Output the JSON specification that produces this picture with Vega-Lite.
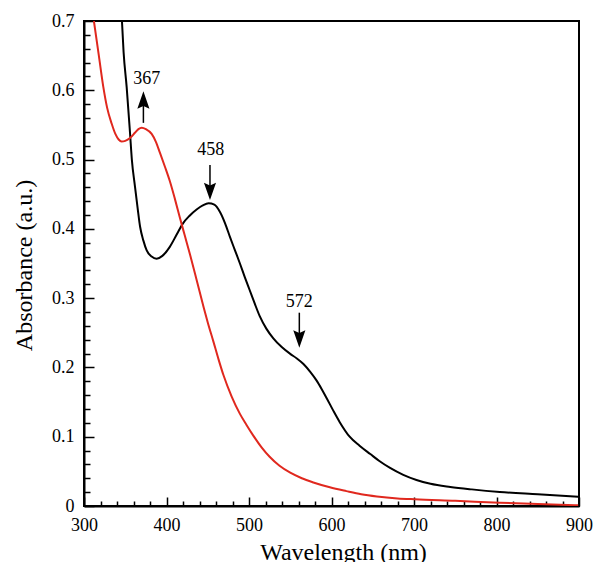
{
  "$schema": "https://vega.github.io/schema/vega-lite/v6.json",
  "width": 495,
  "height": 485,
  "autosize": {"type": "none"},
  "padding": {"left": 84, "top": 21, "right": 14, "bottom": 56},
  "background": "white",
  "config": {
    "view": {"stroke": "black", "strokeWidth": 2},
    "font": "Liberation Serif",
    "axis": {"grid": false, "domainColor": "black", "tickColor": "black", "labelColor": "black", "titleColor": "black", "labelFont": "Liberation Serif", "titleFont": "Liberation Serif", "labelFontSize": 18, "titleFontSize": 24, "titleFontWeight": "normal", "labelFlush": false, "labelOverlap": false}
  },
  "datasets": {
    "spectra": [
      {"wl": 346, "abs": 0.700, "s": "b"},
      {"wl": 348, "abs": 0.655, "s": "b"},
      {"wl": 351.7, "abs": 0.605, "s": "b"},
      {"wl": 355.8, "abs": 0.538, "s": "b"},
      {"wl": 358, "abs": 0.500, "s": "b"},
      {"wl": 361.8, "abs": 0.461, "s": "b"},
      {"wl": 365, "abs": 0.430, "s": "b"},
      {"wl": 368, "abs": 0.403, "s": "b"},
      {"wl": 372, "abs": 0.383, "s": "b"},
      {"wl": 376, "abs": 0.369, "s": "b"},
      {"wl": 382, "abs": 0.360, "s": "b"},
      {"wl": 388, "abs": 0.357, "s": "b"},
      {"wl": 395, "abs": 0.361, "s": "b"},
      {"wl": 404, "abs": 0.374, "s": "b"},
      {"wl": 412, "abs": 0.391, "s": "b"},
      {"wl": 420, "abs": 0.408, "s": "b"},
      {"wl": 428, "abs": 0.419, "s": "b"},
      {"wl": 436.5, "abs": 0.428, "s": "b"},
      {"wl": 444, "abs": 0.434, "s": "b"},
      {"wl": 451, "abs": 0.437, "s": "b"},
      {"wl": 458, "abs": 0.435, "s": "b"},
      {"wl": 465, "abs": 0.424, "s": "b"},
      {"wl": 471, "abs": 0.408, "s": "b"},
      {"wl": 477, "abs": 0.388, "s": "b"},
      {"wl": 483, "abs": 0.369, "s": "b"},
      {"wl": 489, "abs": 0.350, "s": "b"},
      {"wl": 495, "abs": 0.330, "s": "b"},
      {"wl": 501, "abs": 0.311, "s": "b"},
      {"wl": 507, "abs": 0.292, "s": "b"},
      {"wl": 513, "abs": 0.274, "s": "b"},
      {"wl": 521, "abs": 0.256, "s": "b"},
      {"wl": 529.5, "abs": 0.242, "s": "b"},
      {"wl": 540, "abs": 0.229, "s": "b"},
      {"wl": 550, "abs": 0.2195, "s": "b"},
      {"wl": 558, "abs": 0.213, "s": "b"},
      {"wl": 566, "abs": 0.205, "s": "b"},
      {"wl": 574, "abs": 0.194, "s": "b"},
      {"wl": 582, "abs": 0.181, "s": "b"},
      {"wl": 588, "abs": 0.169, "s": "b"},
      {"wl": 594, "abs": 0.156, "s": "b"},
      {"wl": 602, "abs": 0.138, "s": "b"},
      {"wl": 610, "abs": 0.121, "s": "b"},
      {"wl": 622, "abs": 0.100, "s": "b"},
      {"wl": 634, "abs": 0.087, "s": "b"},
      {"wl": 647, "abs": 0.075, "s": "b"},
      {"wl": 658, "abs": 0.065, "s": "b"},
      {"wl": 671, "abs": 0.055, "s": "b"},
      {"wl": 687, "abs": 0.045, "s": "b"},
      {"wl": 703, "abs": 0.0376, "s": "b"},
      {"wl": 720, "abs": 0.032, "s": "b"},
      {"wl": 744, "abs": 0.0275, "s": "b"},
      {"wl": 770, "abs": 0.024, "s": "b"},
      {"wl": 804, "abs": 0.0203, "s": "b"},
      {"wl": 850, "abs": 0.017, "s": "b"},
      {"wl": 899, "abs": 0.0135, "s": "b"},
      {"wl": 312, "abs": 0.700, "s": "r"},
      {"wl": 315, "abs": 0.675, "s": "r"},
      {"wl": 318, "abs": 0.650, "s": "r"},
      {"wl": 323.4, "abs": 0.605, "s": "r"},
      {"wl": 328, "abs": 0.575, "s": "r"},
      {"wl": 333.5, "abs": 0.552, "s": "r"},
      {"wl": 338, "abs": 0.537, "s": "r"},
      {"wl": 342, "abs": 0.529, "s": "r"},
      {"wl": 345.6, "abs": 0.526, "s": "r"},
      {"wl": 350, "abs": 0.527, "s": "r"},
      {"wl": 355.8, "abs": 0.531, "s": "r"},
      {"wl": 362, "abs": 0.539, "s": "r"},
      {"wl": 366, "abs": 0.544, "s": "r"},
      {"wl": 370, "abs": 0.546, "s": "r"},
      {"wl": 375, "abs": 0.544, "s": "r"},
      {"wl": 382, "abs": 0.537, "s": "r"},
      {"wl": 387, "abs": 0.526, "s": "r"},
      {"wl": 392, "abs": 0.510, "s": "r"},
      {"wl": 398, "abs": 0.490, "s": "r"},
      {"wl": 404, "abs": 0.469, "s": "r"},
      {"wl": 410, "abs": 0.444, "s": "r"},
      {"wl": 416, "abs": 0.417, "s": "r"},
      {"wl": 422, "abs": 0.391, "s": "r"},
      {"wl": 428.5, "abs": 0.363, "s": "r"},
      {"wl": 436.6, "abs": 0.326, "s": "r"},
      {"wl": 445, "abs": 0.287, "s": "r"},
      {"wl": 450, "abs": 0.265, "s": "r"},
      {"wl": 456.7, "abs": 0.238, "s": "r"},
      {"wl": 463, "abs": 0.212, "s": "r"},
      {"wl": 469, "abs": 0.189, "s": "r"},
      {"wl": 479, "abs": 0.158, "s": "r"},
      {"wl": 489, "abs": 0.133, "s": "r"},
      {"wl": 497, "abs": 0.117, "s": "r"},
      {"wl": 505, "abs": 0.102, "s": "r"},
      {"wl": 515, "abs": 0.085, "s": "r"},
      {"wl": 525, "abs": 0.071, "s": "r"},
      {"wl": 537, "abs": 0.058, "s": "r"},
      {"wl": 550, "abs": 0.048, "s": "r"},
      {"wl": 564, "abs": 0.040, "s": "r"},
      {"wl": 578, "abs": 0.034, "s": "r"},
      {"wl": 598, "abs": 0.027, "s": "r"},
      {"wl": 618, "abs": 0.0215, "s": "r"},
      {"wl": 636, "abs": 0.017, "s": "r"},
      {"wl": 655, "abs": 0.0138, "s": "r"},
      {"wl": 680, "abs": 0.011, "s": "r"},
      {"wl": 701, "abs": 0.0097, "s": "r"},
      {"wl": 750, "abs": 0.0075, "s": "r"},
      {"wl": 804, "abs": 0.0048, "s": "r"},
      {"wl": 850, "abs": 0.003, "s": "r"},
      {"wl": 899, "abs": 0.001, "s": "r"}
    ],
    "notes": [
      {"label": "367", "tx": 376, "ty": 0.6165, "ax": 372, "a1": 0.553, "a2": 0.58, "head": 0.586, "dir": "up"},
      {"label": "458", "tx": 453.5, "ty": 0.5145, "ax": 452.7, "a1": 0.492, "a2": 0.46, "head": 0.454, "dir": "down"},
      {"label": "572", "tx": 561, "ty": 0.295, "ax": 561, "a1": 0.279, "a2": 0.246, "head": 0.241, "dir": "down"}
    ]
  },
  "resolve": {"axis": {"x": "independent", "y": "independent"}},
  "layer": [
    {
      "data": {"name": "spectra"},
      "mark": {"type": "line", "clip": true, "strokeWidth": 2, "interpolate": "monotone"},
      "encoding": {
        "x": {"field": "wl", "type": "quantitative", "scale": {"domain": [300, 900], "nice": false, "zero": false},
          "axis": {"orient": "bottom", "values": [300, 400, 500, 600, 700, 800, 900], "title": "Wavelength (nm)", "labelFont": "Liberation Serif", "labelFlush": false, "domainWidth": 2, "tickWidth": 1.5, "tickSize": -9, "labelPadding": 19, "titleX": 259, "titleY": 34, "titleBaseline": "top"}},
        "y": {"field": "abs", "type": "quantitative", "scale": {"domain": [0, 0.7], "nice": false},
          "axis": {"orient": "left", "values": [0, 0.1, 0.2, 0.3, 0.4, 0.5, 0.6, 0.7], "title": "Absorbance (a.u.)", "labelFont": "Liberation Serif", "labelFlush": false, "domainWidth": 2, "tickWidth": 1.5, "tickSize": -10, "labelPadding": 20, "titleX": -48, "titleY": 244, "titleAngle": -90, "titleBaseline": "bottom", "labelExpr": "datum.value == 0 ? '0' : format(datum.value, '.1f')"}},
        "color": {"field": "s", "type": "nominal", "scale": {"domain": ["b", "r"], "range": ["#000000", "#e0281e"]}, "legend": null},
        "detail": {"field": "s"}
      }
    },
    {
      "data": {"name": "notes"},
      "mark": {"type": "text", "font": "Liberation Serif", "fontSize": 18, "color": "black"},
      "encoding": {
        "x": {"field": "tx", "type": "quantitative",
          "axis": {"orient": "bottom", "values": [320, 340, 360, 380, 420, 440, 460, 480, 520, 540, 560, 580, 620, 640, 660, 680, 720, 740, 760, 780, 820, 840, 860, 880], "title": null, "labels": false, "domain": false, "tickWidth": 1.5, "tickSize": -5}},
        "y": {"field": "ty", "type": "quantitative",
          "axis": {"orient": "left", "values": [0.02, 0.04, 0.06, 0.08, 0.12, 0.14, 0.16, 0.18, 0.22, 0.24, 0.26, 0.28, 0.32, 0.34, 0.36, 0.38, 0.42, 0.44, 0.46, 0.48, 0.52, 0.54, 0.56, 0.58, 0.62, 0.64, 0.66, 0.68], "title": null, "labels": false, "domain": false, "tickWidth": 1.5, "tickSize": -6}},
        "text": {"field": "label"}
      }
    },
    {
      "data": {"name": "notes"},
      "mark": {"type": "rule", "color": "black", "strokeWidth": 1.5},
      "encoding": {
        "x": {"field": "ax", "type": "quantitative", "axis": null},
        "y": {"field": "a1", "type": "quantitative", "axis": null},
        "y2": {"field": "a2"}
      }
    },
    {
      "data": {"name": "notes"},
      "mark": {"type": "point", "filled": true, "opacity": 1, "color": "black", "strokeWidth": 0, "size": 300},
      "encoding": {
        "x": {"field": "ax", "type": "quantitative", "axis": null},
        "y": {"field": "head", "type": "quantitative", "axis": null},
        "shape": {"field": "dir", "type": "nominal", "scale": {"domain": ["up", "down"], "range": ["M0,-1L0.7,1L0,0.7L-0.7,1Z", "M0,1L0.7,-1L0,-0.7L-0.7,-1Z"]}, "legend": null}
      }
    }
  ]
}
